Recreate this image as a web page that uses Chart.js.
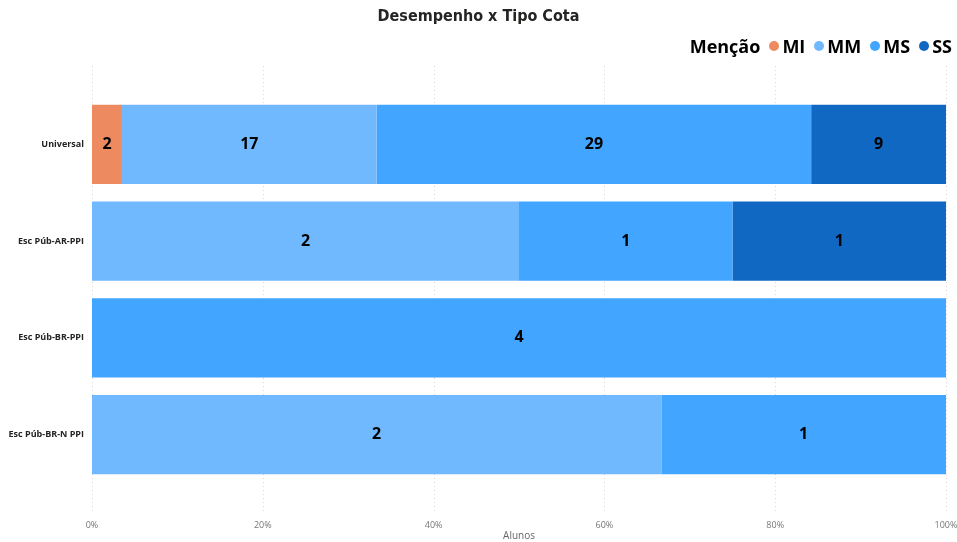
<!DOCTYPE html>
<html>
<head>
<meta charset="utf-8">
<script src="https://cdn.jsdelivr.net/npm/chart.js@4"></script>
<style>
  html, body { margin: 0; padding: 0; background: #fff; }
  #wrap { position: relative; width: 957px; height: 542px; }
  #title {
    position: absolute; top: 6px; left: 0; width: 957px; text-align: center;
    font-family: 'DejaVu Sans Condensed', 'DejaVu Sans', sans-serif; font-weight: bold;
    font-size: 16px; color: #252423;
  }
  #legend {
    position: absolute; top: 34px; right: 5px; display: flex; align-items: center;
    font-family: 'Open Sans', sans-serif; font-weight: bold; font-size: 18px; color: #000;
  }
  #legend .item { display: flex; align-items: center; margin-left: 9px; }
  #legend .dot { width: 10px; height: 10px; border-radius: 50%; margin-right: 3px; }
</style>
</head>
<body>
<div id="wrap">
  <canvas id="cotaChart" width="957" height="542"></canvas>
  <div id="title">Desempenho x Tipo Cota</div>
  <div id="legend"><span>Menção</span></div>
</div>
<script>
// Categorias e contagens de alunos por menção
const categorias = ['Universal', 'Esc Púb-AR-PPI', 'Esc Púb-BR-PPI', 'Esc Púb-BR-N PPI'];
const mencoes = ['MI', 'MM', 'MS', 'SS'];
const cores = ['#ED8A60', '#70B9FF', '#42A5FF', '#1168C2'];
const alunosMI = [2, 0, 0, 0];
const alunosMM = [17, 2, 0, 2];
const alunosMS = [29, 1, 4, 1];
const alunosSS = [9, 1, 0, 0];
const xTicks = [0, 20, 40, 60, 80, 100];

const contagens = [alunosMI, alunosMM, alunosMS, alunosSS];
const totais = categorias.map((_, i) => contagens.reduce((s, arr) => s + arr[i], 0));

// legenda em HTML
const legend = document.getElementById('legend');
mencoes.forEach((m, i) => {
  const el = document.createElement('span');
  el.className = 'item';
  el.innerHTML = '<span class="dot" style="background:' + cores[i] + '"></span>' + m;
  legend.appendChild(el);
});

// grade pontilhada vertical, um pouco além da área das barras
const gridPlugin = {
  id: 'dottedGrid',
  beforeDatasetsDraw(chart) {
    const ctx = chart.ctx;
    const x = chart.scales.x;
    ctx.save();
    ctx.strokeStyle = '#d6d6d6';
    ctx.lineWidth = 1;
    ctx.setLineDash([1, 3]);
    xTicks.forEach(v => {
      const px = Math.round(x.getPixelForValue(v)) + 0.5;
      ctx.beginPath();
      ctx.moveTo(px, 66);
      ctx.lineTo(px, 512);
      ctx.stroke();
    });
    ctx.restore();
  }
};

// rótulos com a contagem dentro de cada segmento
const labelPlugin = {
  id: 'segLabels',
  afterDatasetsDraw(chart) {
    const ctx = chart.ctx;
    ctx.save();
    ctx.font = 'bold 16px "Open Sans", sans-serif';
    ctx.fillStyle = '#000';
    ctx.textAlign = 'center';
    ctx.textBaseline = 'middle';
    chart.data.datasets.forEach((ds, di) => {
      chart.getDatasetMeta(di).data.forEach((bar, i) => {
        const n = contagens[di][i];
        if (!n) return;
        const cx = (bar.x + bar.base) / 2;
        ctx.fillText(String(n), cx, bar.y);
      });
    });
    ctx.restore();
  }
};

new Chart(document.getElementById('cotaChart'), {
  type: 'bar',
  data: {
    labels: categorias,
    datasets: mencoes.map((m, i) => ({
      label: m,
      data: contagens[i].map((n, j) => n / totais[j] * 100),
      backgroundColor: cores[i],
      borderWidth: 0,
      barPercentage: 0.82,
      categoryPercentage: 1
    }))
  },
  options: {
    indexAxis: 'y',
    responsive: false,
    animation: false,
    layout: { padding: { top: 96, right: 11, bottom: 0, left: 0 } },
    plugins: {
      legend: { display: false },
      tooltip: { enabled: false }
    },
    scales: {
      x: {
        stacked: true,
        min: 0,
        max: 100,
        afterBuildTicks: s => { s.ticks = xTicks.map(v => ({ value: v })); },
        afterFit: s => { s.height = 59; s.paddingLeft = 0; s.paddingRight = 0; },
        grid: { display: false },
        border: { display: false },
        ticks: {
          padding: 29,
          color: '#777',
          font: { family: 'Open Sans', size: 9 },
          callback: v => v + '%'
        },
        title: {
          display: true,
          text: 'Alunos',
          color: '#666',
          padding: { top: 1, bottom: 0 },
          font: { family: 'Open Sans', size: 10 }
        }
      },
      y: {
        stacked: true,
        afterFit: s => { s.width = 92; },
        grid: { display: false, drawTicks: false },
        border: { display: false },
        ticks: {
          padding: 8,
          color: '#252423',
          font: { family: 'Open Sans', size: 9, weight: 'bold' }
        }
      }
    }
  },
  plugins: [gridPlugin, labelPlugin]
});
</script>
</body>
</html>
